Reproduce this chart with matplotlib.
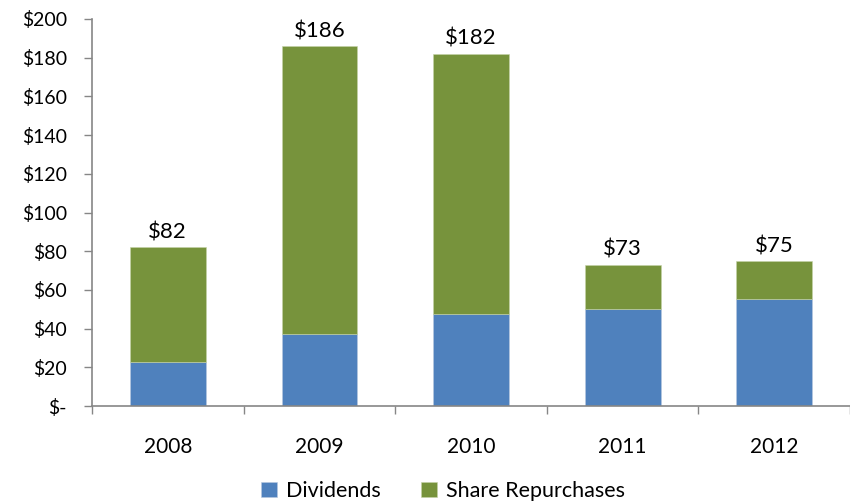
import matplotlib
matplotlib.use("Agg")
import matplotlib.pyplot as plt
import numpy as np

years = ["2008", "2009", "2010", "2011", "2012"]
dividends = [22.6, 37.0, 47.7, 50.3, 55.3]
totals = [82, 186, 182, 73, 75]
repurchases = [t - d for t, d in zip(totals, dividends)]
total_labels = ["$82", "$186", "$182", "$73", "$75"]
ytick_vals = [0, 20, 40, 60, 80, 100, 120, 140, 160, 180, 200]
ytick_labels = ["$-", "$20", "$40", "$60", "$80", "$100", "$120", "$140", "$160", "$180", "$200"]

plt.rcParams['font.family'] = ['Lato', 'DejaVu Sans']

fig = plt.figure(figsize=(8.5, 5.04), dpi=100)
ax = fig.add_axes([92/850, 1 - 406/504, 1 - 92/850, (406 - 19)/504])

x = np.arange(len(years))
blue = "#4F81BD"
green = "#77933C"
w = 0.5
ax.bar(x, dividends, w, color=blue, edgecolor="#b8c8e0", linewidth=0.4, label="Dividends", zorder=2)
ax.bar(x, repurchases, w, bottom=dividends, color=green, edgecolor="#c5d3a8", linewidth=0.4,
       label="Share Repurchases", zorder=2)

for xi, t, lab in zip(x, totals, total_labels):
    ax.text(xi, t + 2.5, lab, ha="center", va="bottom", fontsize=16, color="black")

ax.set_xlim(-0.5, -0.5 + 758/153)
ax.set_ylim(0, 200)
ax.set_yticks(ytick_vals)
ax.set_yticklabels(ytick_labels, fontsize=14)
ax.tick_params(axis="y", direction="out", length=6, width=1, color="#868686", pad=12)

ax.set_xticks(x)
ax.set_xticklabels(years, fontsize=15)
ax.set_xticks(np.arange(-0.5, 5.0, 1.0), minor=True)
ax.tick_params(axis="x", which="major", length=0, pad=22)
ax.tick_params(axis="x", which="minor", direction="out", length=6, width=1, color="#868686")

for s in ["top", "right"]:
    ax.spines[s].set_visible(False)
for s in ["left", "bottom"]:
    ax.spines[s].set_color("#868686")
    ax.spines[s].set_linewidth(1.2)

handles, labels = ax.get_legend_handles_labels()
fig.legend(handles, labels, loc="center", bbox_to_anchor=(443/850, 1 - 491/504), ncol=2,
           frameon=False, fontsize=15.5, handlelength=0.75, handleheight=0.75,
           handletextpad=0.4, columnspacing=1.9)

fig.savefig("out.png", dpi=100)
